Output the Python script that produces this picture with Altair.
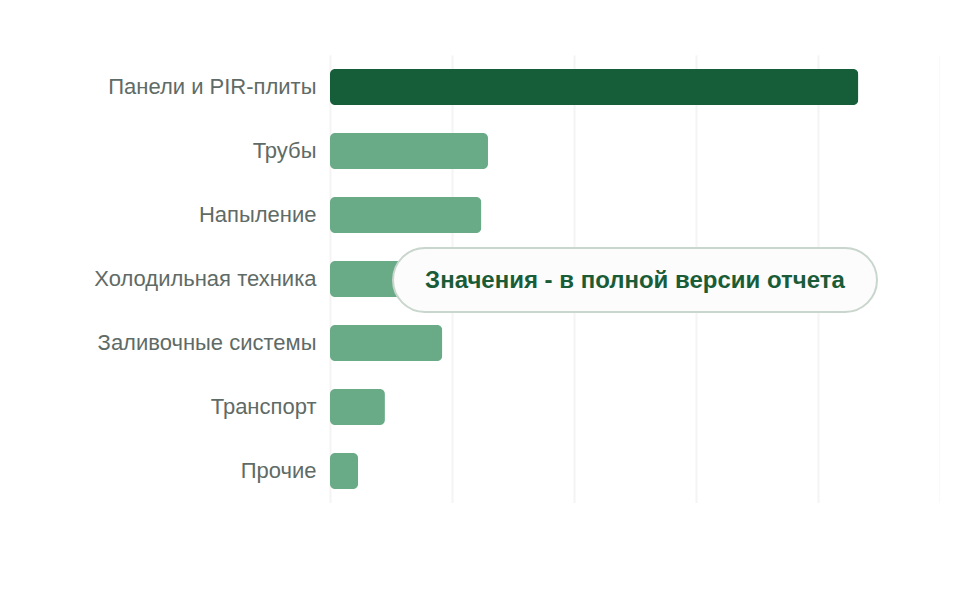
import altair as alt
import pandas as pd

categories = ["Панели и PIR-плиты", "Трубы", "Напыление", "Холодильная техника",
              "Заливочные системы", "Транспорт", "Прочие"]
values = [86.6, 25.9, 24.8, 21.0, 18.4, 9.0, 4.6]
highlight = [True, False, False, False, False, False, False]
x_ticks = [0, 20, 40, 60, 80, 100]
note_text = ["Значения - в полной версии отчета"]

df = pd.DataFrame({"cat": categories, "val": values, "hl": highlight})

W, H = 610, 448

color_scale = alt.Scale(domain=[True, False], range=["#165e3a", "#6aab87"])

y_enc = alt.Y("cat:N", sort=categories,
              scale=alt.Scale(paddingInner=0.44, paddingOuter=0.22),
              axis=alt.Axis(title=None, domain=False, ticks=False, labelPadding=14,
                            labelFontSize=22, labelColor="#5f6b66",
                            labelFont="Liberation Sans", labelLimit=320, grid=False))
x_enc = alt.X("val:Q", scale=alt.Scale(domain=[0, 100], nice=False),
              axis=alt.Axis(values=x_ticks, title=None, labels=False, ticks=False,
                            domain=False, grid=True, gridColor="#f3f4f3", gridWidth=2))

halo = alt.Chart(df).mark_bar(cornerRadius=7, opacity=0.25, strokeWidth=6,
                              strokeOpacity=0.35).encode(
    x=x_enc, y=y_enc,
    color=alt.Color("hl:N", scale=color_scale, legend=None),
    stroke=alt.Color("hl:N", scale=color_scale, legend=None),
)

bars = alt.Chart(df).mark_bar(cornerRadius=5).encode(
    x=x_enc, y=y_enc,
    color=alt.Color("hl:N", scale=color_scale, legend=None),
)

note_df = pd.DataFrame({"t": note_text})
box = alt.Chart(note_df).mark_rect(cornerRadius=32, fill="#fbfcfb", stroke="#c9d6cd",
                                   strokeWidth=2).encode(
    x=alt.value(63), x2=alt.value(547), y=alt.value(193), y2=alt.value(257))
txt = alt.Chart(note_df).mark_text(fontSize=24, fontWeight="bold", color="#1a5c38",
                                   font="Liberation Sans", align="center",
                                   baseline="middle").encode(
    text="t:N", x=alt.value(305), y=alt.value(226))

chart = alt.layer(halo, bars, box, txt).properties(
    width=W, height=H,
    background="white",
    autosize=alt.AutoSizeParams(type="none"),
    padding={"left": 322, "top": 47, "right": 0, "bottom": 0},
).configure_view(stroke="transparent", strokeWidth=0)

chart.save("out.html", embed_options={"renderer": "svg", "actions": False})
